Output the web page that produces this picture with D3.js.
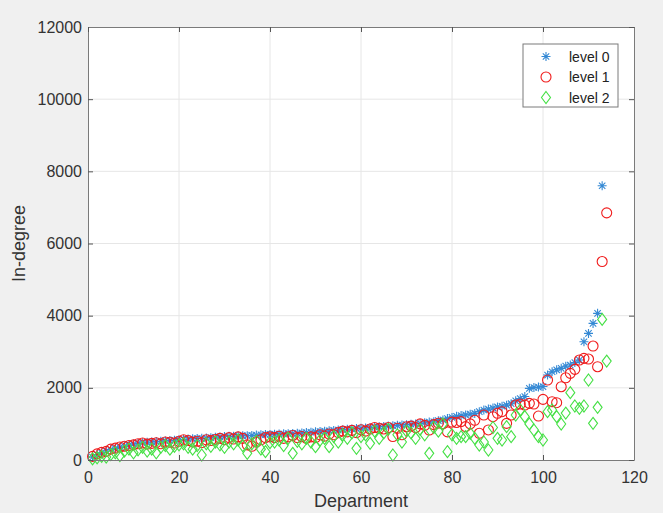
<!DOCTYPE html>
<html>
<head>
<meta charset="utf-8">
<script src="https://cdn.jsdelivr.net/npm/d3@7"></script>
<style>
    body { margin: 0; background: #f0f0f0; }
    svg { display: block; }
</style>
</head>
<body>
<div class="content"></div>
<script>
// in-degree per department, three levels
var level0 = [
    80, 150, 200, 250, 290, 320, 350, 380, 410, 440,
    460, 475, 490, 500, 510, 520, 530, 540, 550, 560,
    570, 580, 590, 595, 600, 610, 620, 630, 640, 650,
    655, 660, 665, 670, 675, 680, 690, 700, 705, 710,
    715, 720, 725, 730, 735, 740, 750, 760, 770, 780,
    790, 800, 810, 820, 830, 840, 850, 860, 870, 880,
    890, 900, 910, 920, 930, 940, 950, 960, 970, 980,
    990, 1000, 1010, 1030, 1050, 1060, 1090, 1110, 1150, 1180,
    1210, 1230, 1250, 1270, 1290, 1340, 1385, 1410, 1440, 1470,
    1490, 1520, 1560, 1640, 1700, 1760, 1985, 2010, 2020, 2035,
    2354, 2446, 2500, 2540, 2600, 2631, 2700, 2770, 3277, 3509,
    3786, 4064, 7600
];
var level1 = [
    100, 170, 210, 240, 300, 330, 360, 380, 400, 420,
    450, 470, 440, 460, 480, 450, 500, 490, 470, 520,
    560, 540, 500, 520, 480, 560, 540, 570, 600, 560,
    620, 580, 640, 600, 420, 380, 500, 560, 620, 640,
    620, 660, 600, 640, 680, 620, 650, 600, 640, 620,
    700, 660, 720, 700, 760, 800, 780, 820, 760, 840,
    800, 860, 900, 880, 860, 900, 650, 880, 700, 920,
    940, 900, 1000, 960, 830, 980, 1020, 1000, 780, 1050,
    1040, 1064, 925, 1000, 1100, 740, 1246, 833, 1200, 1295,
    1339, 1016, 1246, 1523, 1550, 1523, 1570, 1551, 1218, 1681,
    2216, 1615, 1588, 2031, 2280, 2401, 2512, 2770, 2817, 2798,
    3158, 2585, 5500, 6850
];
var level2 = [
    30, 60, 100, 80, 150, 200, 120, 250, 300, 200,
    280, 350, 250, 300, 200, 350, 400, 300, 380, 420,
    450, 350, 300, 400, 139, 450, 380, 500, 420, 350,
    500, 450, 550, 400, 185, 450, 520, 300, 231, 480,
    500, 550, 400, 600, 185, 520, 450, 600, 500, 370,
    550, 600, 370, 650, 500, 700, 600, 750, 324, 650,
    700, 462, 800, 600, 750, 850, 139, 700, 500, 800,
    750, 600, 850, 700, 185, 900, 800, 1000, 231, 700,
    600, 646, 646, 739, 600, 415, 500, 277, 900, 600,
    554, 924, 646, 1246, 1385, 1200, 1000, 831, 646, 554,
    1339, 1385, 1200, 997, 1300, 1865, 1496, 1431, 1496, 2216,
    1016, 1459, 3897, 2742
];
var seriesNames = ["level 0", "level 1", "level 2"];
var xTicks = [0, 20, 40, 60, 80, 100, 120];
var yTicks = [0, 2000, 4000, 6000, 8000, 10000, 12000];

(function (window) {
    'use strict';
    var W = 663, H = 513,
        plot = {left: 88, right: 634, top: 27, bottom: 460},
        colors = ["#3589d4", "#f01c1c", "#45e045"],
        markers = ["asterisk", "circle", "diamond"],
        font = "'Liberation Sans', Arial, Helvetica, sans-serif",
        svg, x, y, allSeries;

    function markerPath(kind) {
        if (kind === "asterisk") {
            return "M-4.5,0H4.5M0,-4.5V4.5M-3.2,-3.2L3.2,3.2M-3.2,3.2L3.2,-3.2";
        }
        if (kind === "diamond") {
            return "M0,-6L4.5,0L0,6L-4.5,0Z";
        }
        return null;
    }

    function drawMarker(g, kind, color) {
        if (kind === "circle") {
            return g.append("circle").attr("r", 5)
                .attr("fill", "none").attr("stroke", color).attr("stroke-width", 1.1);
        }
        return g.append("path").attr("d", markerPath(kind))
            .attr("fill", "none").attr("stroke", color).attr("stroke-width", 1.1);
    }

    svg = d3.select(".content").append("svg")
        .attr("width", W).attr("height", H);
    svg.append("rect").attr("width", W).attr("height", H).attr("fill", "#f0f0f0");

    x = d3.scaleLinear().domain([0, 120]).range([plot.left, plot.right]);
    y = d3.scaleLinear().domain([0, 12000]).range([plot.bottom, plot.top]);

    svg.append("rect")
        .attr("x", plot.left).attr("y", plot.top)
        .attr("width", plot.right - plot.left).attr("height", plot.bottom - plot.top)
        .attr("fill", "#fff");

    // grid
    svg.append("g").selectAll("line").data(xTicks.slice(1, -1)).enter().append("line")
        .attr("x1", x).attr("x2", x).attr("y1", plot.top).attr("y2", plot.bottom)
        .attr("stroke", "#e6e6e6");
    svg.append("g").selectAll("line").data(yTicks.slice(1, -1)).enter().append("line")
        .attr("y1", y).attr("y2", y).attr("x1", plot.left).attr("x2", plot.right)
        .attr("stroke", "#e6e6e6");

    // data
    allSeries = [level0, level1, level2];
    allSeries.forEach(function (values, s) {
        svg.append("g").selectAll("g").data(values).enter().append("g")
            .attr("transform", function (d, i) {
                return "translate(" + [x(i + 1), y(d)] + ")";
            })
            .each(function () {
                drawMarker(d3.select(this), markers[s], colors[s]);
            });
    });

    // axes (ticks inside, box on)
    var fmt = d3.format("d");
    var xAxis = d3.axisBottom(x).tickValues(xTicks).tickFormat(fmt).tickSizeInner(-5).tickSizeOuter(0).tickPadding(12);
    var yAxis = d3.axisLeft(y).tickValues(yTicks).tickFormat(fmt).tickSizeInner(-5).tickSizeOuter(0).tickPadding(6);
    var gx = svg.append("g").attr("transform", "translate(0," + plot.bottom + ")").call(xAxis);
    var gy = svg.append("g").attr("transform", "translate(" + plot.left + ",0)").call(yAxis);
    var gt = svg.append("g").attr("transform", "translate(0," + plot.top + ")")
        .call(d3.axisTop(x).tickValues(xTicks).tickSizeInner(-5).tickSizeOuter(0).tickFormat(""));
    var gr = svg.append("g").attr("transform", "translate(" + plot.right + ",0)")
        .call(d3.axisRight(y).tickValues(yTicks).tickSizeInner(-5).tickSizeOuter(0).tickFormat(""));
    [gx, gy, gt, gr].forEach(function (g) {
        g.select(".domain").attr("stroke", "#7a7a7a");
        g.selectAll(".tick line").attr("stroke", "#555");
        g.selectAll("text").attr("fill", "#333").style("font-family", font).style("font-size", "16px");
    });

    svg.append("text").text("Department")
        .attr("x", (plot.left + plot.right) / 2).attr("y", 507)
        .attr("text-anchor", "middle").attr("fill", "#333")
        .style("font-family", font).style("font-size", "18px");
    svg.append("text").text("In-degree")
        .attr("transform", "translate(25," + ((plot.top + plot.bottom) / 2) + ") rotate(-90)")
        .attr("text-anchor", "middle").attr("fill", "#333")
        .style("font-family", font).style("font-size", "18px");

    // legend
    var lg = svg.append("g").attr("transform", "translate(523,44)");
    lg.append("rect").attr("width", 95).attr("height", 63)
        .attr("fill", "#fff").attr("stroke", "#7a7a7a");
    seriesNames.forEach(function (name, s) {
        var row = lg.append("g").attr("transform", "translate(0," + (12.5 + s * 20.5) + ")");
        drawMarker(row.append("g").attr("transform", "translate(23,0)"), markers[s], colors[s]);
        row.append("text").text(name).attr("x", 46).attr("y", 5)
            .attr("fill", "#222").style("font-family", font).style("font-size", "14px");
    });
}(window));
</script>
</body>
</html>
